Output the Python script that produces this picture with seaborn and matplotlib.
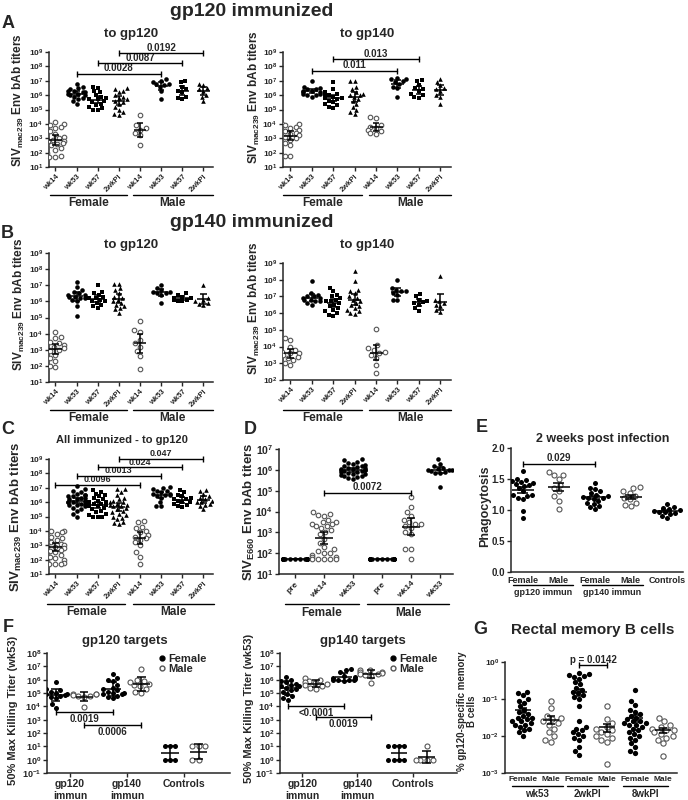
import numpy as np
import pandas as pd
import matplotlib
matplotlib.use("Agg")
import matplotlib.pyplot as plt
from matplotlib.lines import Line2D
from matplotlib.ticker import NullLocator, FormatStrFormatter
import seaborn as sns

# ---------------- data (titers as log10 values) ----------------
weeks = ["wk14", "wk53", "wk57", "2wkPI"]
d_weeks = ["pre", "wk14", "wk53"]
sexes = ["Female", "Male"]

# A: gp120 immunized, binding to gp120 / gp140  (wk14, wk53, wk57, 2wkPI)
a120_f = [[4.1, 4.0, 3.9, 3.8, 3.7, 3.5, 3.3, 3.1, 3.0, 2.9, 2.8, 2.8, 2.7, 2.6, 2.5, 2.3, 2.2, 2.0, 1.8, 1.7, 1.7],
          [6.8, 6.6, 6.5, 6.4, 6.3, 6.3, 6.2, 6.2, 6.1, 6.1, 6.0, 6.0, 5.9, 5.8, 5.7, 5.6, 5.4],
          [6.6, 6.5, 6.3, 6.2, 6.0, 5.9, 5.8, 5.7, 5.7, 5.6, 5.5, 5.4, 5.3, 5.2, 5.1, 5.0, 5.0],
          [6.5, 6.4, 6.3, 6.2, 6.0, 5.9, 5.8, 5.7, 5.6, 5.5, 5.4, 5.2, 5.0, 4.8, 4.7, 4.6]]
a120_m = [[4.6, 3.9, 3.7, 3.6, 3.4, 3.2, 2.5],
          [7.1, 7.0, 6.9, 6.8, 6.8, 6.7, 6.6, 6.3, 5.75],
          [7.0, 6.9, 6.6, 6.4, 6.3, 6.2, 5.9, 5.8, 5.7],
          [6.8, 6.7, 6.5, 6.4, 6.3, 6.0, 5.9, 5.6]]
a140_f = [[4.0, 4.0, 3.9, 3.8, 3.7, 3.6, 3.5, 3.4, 3.3, 3.2, 3.1, 3.0, 2.9, 2.7, 2.5, 1.8, 1.8],
          [7.0, 6.6, 6.5, 6.4, 6.4, 6.3, 6.3, 6.2, 6.2, 6.1, 6.1, 6.0, 6.0, 5.9],
          [6.9, 6.4, 6.2, 6.1, 6.0, 6.0, 5.9, 5.8, 5.8, 5.7, 5.6, 5.5, 5.4, 5.3, 5.2, 5.1],
          [7.0, 7.0, 6.6, 6.4, 6.2, 6.1, 6.0, 6.0, 5.9, 5.7, 5.6, 5.4, 5.2, 5.0, 4.8, 4.7]]
a140_m = [[4.45, 4.4, 3.9, 3.8, 3.7, 3.6, 3.5, 3.4, 3.3],
          [7.2, 7.1, 7.1, 7.0, 6.9, 6.8, 6.6, 6.5, 5.9],
          [7.05, 7.0, 6.7, 6.5, 6.4, 6.3, 6.1, 6.0, 5.9, 5.8],
          [7.1, 6.9, 6.7, 6.5, 6.4, 6.3, 6.0, 5.9, 5.4]]

# B: gp140 immunized
b120_f = [[4.1, 3.8, 3.7, 3.5, 3.4, 3.3, 3.2, 3.1, 3.1, 3.0, 2.9, 2.7, 2.5, 2.3, 2.0, 1.9],
          [7.2, 6.9, 6.7, 6.6, 6.5, 6.4, 6.4, 6.3, 6.3, 6.2, 6.2, 6.1, 6.0, 5.7, 5.1],
          [7.0, 6.6, 6.5, 6.4, 6.3, 6.2, 6.2, 6.1, 6.0, 6.0, 5.9, 5.8, 5.7, 5.6],
          [7.1, 7.1, 6.8, 6.7, 6.5, 6.3, 6.2, 6.1, 6.0, 5.9, 5.8, 5.7, 5.6, 5.5, 5.3]]
b120_m = [[4.8, 4.2, 4.1, 3.6, 3.4, 3.2, 2.9, 2.6, 1.8],
          [7.0, 6.8, 6.7, 6.6, 6.6, 6.5, 6.5, 6.4, 5.9],
          [6.5, 6.4, 6.3, 6.2, 6.2, 6.1, 6.1, 6.0, 6.0],
          [7.0, 6.2, 6.1, 6.0, 5.9, 5.85, 5.8]]
b140_f = [[4.5, 4.4, 4.0, 3.8, 3.7, 3.6, 3.6, 3.5, 3.4, 3.3, 3.2, 3.0, 2.9],
          [7.9, 7.2, 7.1, 7.0, 7.0, 6.9, 6.9, 6.8, 6.8, 6.7, 6.7, 6.6, 6.5],
          [7.5, 7.3, 7.1, 7.0, 6.9, 6.8, 6.7, 6.7, 6.6, 6.5, 6.4, 6.3, 6.2, 6.1, 6.0, 5.9, 5.85],
          [8.5, 7.9, 7.4, 7.3, 7.2, 7.0, 6.9, 6.8, 6.7, 6.6, 6.5, 6.4, 6.3, 6.2, 6.1, 6.0, 5.95]]
b140_m = [[5.05, 4.1, 3.9, 3.8, 3.7, 3.6, 3.5, 3.3, 2.9, 2.4],
          [8.0, 7.5, 7.4, 7.3, 7.3, 7.2, 7.1, 6.8, 6.8],
          [7.15, 7.0, 6.8, 6.7, 6.65, 6.6, 6.5, 6.3, 6.15],
          [8.2, 6.8, 6.7, 6.6, 6.5, 6.4, 6.2, 6.05]]

# C: all immunized, to gp120
c_f = [[4.1, 4.0, 4.0, 3.9, 3.8, 3.7, 3.6, 3.5, 3.4, 3.3, 3.2, 3.1, 3.0, 3.0, 2.9, 2.9, 2.8, 2.7, 2.6, 2.5,
        2.4, 2.3, 2.2, 2.1, 2.0, 1.9, 1.8, 1.7, 1.7, 1.7],
       [7.1, 6.9, 6.8, 6.7, 6.6, 6.5, 6.5, 6.4, 6.4, 6.3, 6.3, 6.2, 6.2, 6.1, 6.1, 6.0, 6.0, 6.0, 5.9, 5.9,
        5.8, 5.8, 5.7, 5.6, 5.5, 5.4, 5.2, 5.0],
       [6.85, 6.7, 6.6, 6.5, 6.4, 6.3, 6.2, 6.1, 6.0, 6.0, 5.9, 5.9, 5.8, 5.8, 5.7, 5.7, 5.6, 5.5, 5.4, 5.3,
        5.2, 5.1, 5.0, 5.0, 5.0],
       [6.9, 6.9, 6.7, 6.5, 6.3, 6.2, 6.1, 6.0, 6.0, 5.9, 5.8, 5.8, 5.7, 5.7, 5.6, 5.5, 5.4, 5.3, 5.2, 5.1,
        5.0, 4.9, 4.8, 4.6, 4.55, 4.5]]
c_m = [[4.7, 4.6, 4.3, 4.2, 4.0, 3.9, 3.7, 3.6, 3.5, 3.4, 3.2, 3.0, 2.5, 2.2, 1.7],
       [7.05, 7.0, 6.9, 6.8, 6.8, 6.7, 6.6, 6.6, 6.5, 6.5, 6.4, 6.3, 6.0, 5.7, 5.7],
       [6.85, 6.7, 6.5, 6.4, 6.3, 6.2, 6.2, 6.1, 6.0, 6.0, 5.9, 5.8, 5.7, 5.65],
       [6.85, 6.8, 6.6, 6.4, 6.3, 6.2, 6.1, 6.0, 6.0, 5.9, 5.8, 5.7, 5.5]]

# D: SIVE660 Env titers (pre, wk14, wk53)
d_f = [[1.7, 1.7, 1.7, 1.7, 1.7, 1.7, 1.7, 1.7, 1.7, 1.7, 1.7, 1.7, 1.7, 1.7, 1.7,
        1.7, 1.7, 1.7, 1.7, 1.7, 1.7, 1.7, 1.7, 1.7, 1.7, 1.7, 1.7, 1.7, 1.7, 1.7],
       [4.0, 3.9, 3.85, 3.8, 3.6, 3.5, 3.5, 3.4, 3.4, 3.3, 3.3, 3.2, 3.1, 3.0, 2.9, 2.7, 2.5, 2.3, 2.2, 2.1,
        2.0, 2.0, 1.9, 1.8, 1.8, 1.7, 1.7, 1.7, 1.7, 1.7],
       [6.5, 6.45, 6.4, 6.35, 6.3, 6.25, 6.2, 6.2, 6.15, 6.1, 6.1, 6.05, 6.05, 6.0, 6.0, 6.0, 5.95, 5.95,
        5.9, 5.9, 5.85, 5.8, 5.8, 5.75, 5.7, 5.7, 5.65, 5.6, 5.55]]
d_m = [[1.7, 1.7, 1.7, 1.7, 1.7, 1.7, 1.7, 1.7, 1.7, 1.7, 1.7, 1.7, 1.7, 1.7, 1.7],
       [4.7, 4.2, 4.0, 3.8, 3.6, 3.5, 3.4, 3.4, 3.3, 3.2, 3.0, 2.9, 2.2, 2.2, 1.7],
       [6.5, 6.3, 6.2, 6.1, 6.05, 6.0, 6.0, 6.0, 5.95, 5.9, 5.85, 5.85, 5.2]]

# E: phagocytosis 2 weeks post infection
e_labels = ["Female", "Male", "Female", "Male", "Controls"]
e_immun = ["gp120 immun", "gp140 immun"]
e_vals = [[1.63, 1.5, 1.48, 1.46, 1.45, 1.44, 1.42, 1.4, 1.38, 1.35, 1.3, 1.25, 1.24, 1.22, 1.2, 1.18, 0.99, 0.87],
          [1.62, 1.57, 1.57, 1.5, 1.4, 1.36, 1.3, 1.22, 1.15, 1.01],
          [1.43, 1.36, 1.34, 1.3, 1.28, 1.25, 1.22, 1.21, 1.2, 1.19, 1.18, 1.15, 1.12, 1.1, 1.07, 1.05, 1.02],
          [1.37, 1.35, 1.3, 1.27, 1.23, 1.2, 1.17, 1.12, 1.08, 1.06],
          [1.1, 1.05, 1.03, 1.02, 1.0, 0.99, 0.97, 0.96, 0.95, 0.93, 0.9, 0.87]]

# F: 50% max killing titers (log10), Female / Male per group
f_groups = ["gp120\nimmun", "gp140\nimmun", "Controls"]
f120 = [[5.8, 5.3, 5.2, 5.1, 5.0, 5.0, 4.95, 4.9, 4.9, 4.85, 4.8, 4.7, 4.6, 4.2, 3.9],
        [4.95, 4.9, 4.9, 4.85, 4.8, 4.75, 4.7, 3.95],
        [6.4, 6.1, 6.0, 5.9, 5.6, 5.4, 5.3, 5.2, 5.1, 5.0, 5.0, 4.95, 4.9, 4.8, 4.7, 4.6],
        [6.8, 6.0, 5.9, 5.8, 5.7, 5.6, 5.5, 5.3, 5.1, 5.0],
        [1.0, 1.0, 1.0, 0.0, 0.0, 0.0],
        [1.0, 1.0, 1.0, 0.0, 0.0]]
f140 = [[6.2, 6.0, 5.9, 5.8, 5.7, 5.6, 5.5, 5.5, 5.4, 5.3, 5.2, 5.1, 4.9, 4.75, 4.6, 4.5],
        [6.1, 6.0, 5.9, 5.8, 5.75, 5.7, 5.6, 5.5, 5.4, 5.3],
        [6.8, 6.7, 6.6, 6.3, 6.2, 6.1, 6.05, 6.0, 6.0, 6.0, 5.95, 5.9],
        [6.75, 6.7, 6.6, 6.55, 6.5, 6.45, 6.4, 6.35, 6.3, 5.75],
        [1.0, 1.0, 1.0, 1.0, 0.0, 0.0, 0.0, 0.0],
        [1.0, 0.0, 0.0, 0.0, 0.0]]

# G: rectal gp120-specific memory B cells (log10 %)
g_times = ["wk53", "2wkPI", "8wkPI"]
g_vals = [[-0.8, -0.85, -0.9, -1.0, -1.05, -1.1, -1.2, -1.3, -1.35, -1.4, -1.45, -1.5, -1.5, -1.55, -1.6,
           -1.6, -1.65, -1.7, -1.7, -1.75, -1.8, -1.85, -1.9, -2.0],
          [-1.05, -1.25, -1.45, -1.5, -1.55, -1.6, -1.65, -1.7, -1.8, -1.9, -2.0, -2.1, -2.15],
          [-0.3, -0.32, -0.35, -0.37, -0.4, -0.45, -0.55, -0.6, -0.7, -0.75, -0.8, -0.85, -0.9, -0.95,
           -1.0, -1.2, -1.6, -1.75, -1.8, -1.85, -1.9, -1.95, -2.0, -2.05, -2.1, -2.3, -2.4, -2.5],
          [-1.2, -1.55, -1.65, -1.75, -1.8, -1.85, -1.9, -1.95, -2.0, -2.05, -2.1, -2.15, -2.75],
          [-0.75, -1.05, -1.15, -1.3, -1.35, -1.4, -1.45, -1.5, -1.55, -1.6, -1.6, -1.65, -1.65, -1.7,
           -1.7, -1.75, -1.8, -1.85, -1.9, -1.95, -2.0, -2.05, -2.1, -2.2, -2.3, -2.4, -2.45],
          [-1.5, -1.6, -1.7, -1.75, -1.8, -1.85, -1.85, -1.9, -1.95, -2.0, -2.05, -2.1, -2.2, -2.55]]

# ---------------- style ----------------
sns.set_style("ticks")
plt.rcParams["font.family"] = ["Liberation Sans", "DejaVu Sans"]
plt.rcParams["font.weight"] = "bold"
plt.rcParams["mathtext.fontset"] = "custom"
plt.rcParams["mathtext.rm"] = "Liberation Sans:bold"
plt.rcParams["mathtext.bf"] = "Liberation Sans:bold"
plt.rcParams["mathtext.default"] = "rm"
plt.rcParams["axes.linewidth"] = 1.1
plt.rcParams["xtick.major.size"] = 3
plt.rcParams["ytick.major.size"] = 3
plt.rcParams["xtick.major.pad"] = 1.5
plt.rcParams["ytick.major.pad"] = 1.2

STY = {"open": dict(marker="o", color="white", edgecolor="#555555", linewidth=0.8),
       "dot": dict(marker="o", color="black", linewidth=0),
       "sq": dict(marker="s", color="black", linewidth=0),
       "tri": dict(marker="^", color="black", linewidth=0)}

W, H = 688, 800
fig = plt.figure(figsize=(6.88, 8.0), dpi=100)


def box(l, t, r, b):
    return [l / W, 1 - b / H, (r - l) / W, (b - t) / H]


def ftext(x, y, s, **kw):
    kw.setdefault("ha", "center")
    kw.setdefault("va", "center")
    fig.text(x / W, 1 - y / H, s, **kw)


def swarm(ax, groups, styles, log=True, size=3.0):
    keys = [f"g{i}" for i in range(len(groups))]
    df = pd.DataFrame({"grp": [k for k, g in zip(keys, groups) for _ in g],
                       "val": [10.0 ** v if log else v for g in groups for v in g],
                       "sty": [s for s, g in zip(styles, groups) for _ in g]})
    for s, sub in df.groupby("sty"):
        sns.swarmplot(data=sub, x="grp", y="val", order=keys, ax=ax, size=size,
                      log_scale=True if log else None, warn_thresh=1, **STY[s])
    ax.set_xlabel("")
    ax.set_ylabel("")


def summary(ax, groups, mode, log=True, hw=0.3, cw=0.15):
    for i, g in enumerate(groups):
        v = np.asarray(g, float)
        if log and mode != "lin":
            m, s = v.mean(), v.std(ddof=1)
            e = s if mode == "sd" else 2.0 * s / np.sqrt(len(v))
            c, lo, hi = 10 ** m, 10 ** (m - e), 10 ** (m + e)
        else:
            lin = 10 ** v if log else v
            m = lin.mean()
            e = lin.std(ddof=1) / np.sqrt(len(lin))
            c, lo, hi = m, m - e, m + e
        kw = dict(color="black", lw=1.1, zorder=4, solid_capstyle="butt")
        ax.plot([i - hw, i + hw], [c, c], **kw)
        ax.plot([i, i], [lo, hi], **kw)
        ax.plot([i - cw, i + cw], [lo, lo], **kw)
        ax.plot([i - cw, i + cw], [hi, hi], **kw)


def log_axis(ax, lo, hi, fs=6):
    ax.set_yscale("log")
    ax.set_ylim(10.0 ** lo, 10.0 ** hi)
    ks = list(range(lo, hi + 1))
    ax.set_yticks([10.0 ** k for k in ks])
    ax.set_yticklabels([f"$10^{{{k}}}$" for k in ks], fontsize=fs)
    ax.yaxis.set_minor_locator(NullLocator())


def bracket(ax, i, j, y, text, below=False, fs=7):
    ax.plot([i, j], [y, y], color="black", lw=1, marker="|", ms=5, mew=1, clip_on=False, zorder=6)
    ax.annotate(text, xy=((i + j) / 2, y), xytext=(0, -1.5 if below else 0.3),
                textcoords="offset points", ha="center", va="top" if below else "bottom",
                fontsize=fs, annotation_clip=False)


def under_lines(ax, spans, labels, y_line, y_text, fs=8.5):
    tr = ax.get_xaxis_transform()
    for (x0, x1), lab in zip(spans, labels):
        ax.plot([x0, x1], [y_line, y_line], color="black", lw=1, transform=tr, clip_on=False)
        ax.text((x0 + x1) / 2, y_text, lab, transform=tr, ha="center", va="center", fontsize=fs)


def clean(ax):
    sns.despine(ax=ax)
    ax.tick_params(axis="both", width=1)


def titer_panel(rect, female, male, lo, hi, xlim, spans, y_line, y_text, brs, wk_labels, styles,
                fs_x=5.5, fs_br=7):
    ax = fig.add_axes(box(*rect))
    groups = female + male
    swarm(ax, groups, styles, log=True, size=3.3)
    summary(ax, groups, "ci")
    log_axis(ax, lo, hi)
    ax.set_xlim(*xlim)
    ax.set_xticks(range(len(groups)))
    ax.set_xticklabels(wk_labels * 2, rotation=45, ha="right", rotation_mode="anchor", fontsize=fs_x)
    for i, j, p, y in brs:
        bracket(ax, i, j, 10.0 ** y, p, fs=fs_br)
    under_lines(ax, spans, sexes, y_line, y_text)
    clean(ax)
    return ax


wk_styles = ["open", "dot", "sq", "tri"] * 2
siv_mac = r"SIV$_{\mathrm{mac239}}$ Env bAb titers"

# ---------------- titles ----------------
ftext(252, 11, "gp120 immunized", fontsize=14)
ftext(252, 222, "gp140 immunized", fontsize=14)
for lab, x, y in [("A", 8, 23), ("B", 7, 233), ("C", 8, 430), ("D", 250, 430), ("E", 482, 428), ("F", 8, 628)]:
    ftext(x, y, lab, fontsize=13)
ftext(131, 34, "to gp120", fontsize=9.5)
ftext(367, 34, "to gp140", fontsize=9.5)
ftext(131, 245, "to gp120", fontsize=9.5)
ftext(367, 245, "to gp140", fontsize=9.5)
ftext(122, 440, "All immunized - to gp120", fontsize=8)

# ---------------- A ----------------
titer_panel((49, 52, 213, 167), a120_f, a120_m, 1, 9, (-0.3, 7.45), [(-0.25, 3.4), (3.65, 7.45)],
            -0.243, -0.313, [(1, 5, "0.0028", 7.48), (2, 6, "0.0087", 8.23), (3, 7, "0.0192", 8.93)],
            weeks, wk_styles)
titer_panel((283, 52, 451, 167), a140_f, a140_m, 1, 9, (-0.35, 7.5), [(-0.33, 3.36), (3.69, 7.5)],
            -0.243, -0.313, [(1, 5, "0.011", 7.7), (2, 6, "0.013", 8.5)], weeks, wk_styles)
ftext(18, 100, siv_mac, rotation=90, fontsize=8.5)
ftext(254, 97, siv_mac, rotation=90, fontsize=8.5)

# ---------------- B ----------------
titer_panel((49, 253, 213, 382), b120_f, b120_m, 1, 9, (-0.3, 7.45), [(-0.25, 3.4), (3.65, 7.45)],
            -0.217, -0.279, [], weeks, wk_styles)
titer_panel((283, 263, 451, 380), b140_f, b140_m, 2, 9, (-0.35, 7.5), [(-0.33, 3.36), (3.69, 7.5)],
            -0.256, -0.325, [], weeks, wk_styles)
ftext(19, 304, siv_mac, rotation=90, fontsize=8.5)
ftext(254, 308, siv_mac, rotation=90, fontsize=8.5)

# ---------------- C ----------------
titer_panel((49, 459, 213, 574), c_f, c_m, 1, 9, (-0.3, 7.45), [(-0.38, 3.3), (3.65, 7.5)],
            -0.26, -0.33,
            [(0, 4, "0.0096", 7.2), (1, 5, "0.0013", 7.85), (2, 6, "0.024", 8.42), (3, 7, "0.047", 9.02)],
            weeks, wk_styles, fs_br=6.5)
ftext(16, 517, siv_mac, rotation=90, fontsize=9.5)

# ---------------- D ----------------
d_ax = titer_panel((279, 449, 453, 574), d_f, d_m, 1, 7, (-0.55, 5.45), [(-0.35, 2.2), (2.5, 5.3)],
                   -0.24, -0.312, [(1, 4, "0.0072", 4.9)], d_weeks, ["dot", "open", "dot"] * 2, fs_x=6)
d_ax.tick_params(axis="y", labelsize=7.5)
ftext(249, 512, r"SIV$_{\mathrm{E660}}$ Env bAb titers", rotation=90, fontsize=9.5)

# ---------------- E ----------------
e_ax = fig.add_axes(box(511, 448, 683, 572))
swarm(e_ax, e_vals, ["dot", "open", "dot", "open", "dot"], log=False, size=3.6)
summary(e_ax, e_vals, "lin", log=False)
e_ax.set_ylim(0, 2.0)
e_ax.set_yticks(np.arange(0, 2.01, 0.5))
e_ax.yaxis.set_major_formatter(FormatStrFormatter("%.1f"))
e_ax.tick_params(axis="y", labelsize=7)
e_ax.set_xlim(-0.33, 4.45)
e_ax.set_xticks(range(5))
e_ax.set_xticklabels(e_labels, fontsize=6.5)
e_ax.tick_params(axis="x", length=0, pad=3)
bracket(e_ax, 0, 2, 1.75, "0.029")
under_lines(e_ax, [(-0.28, 1.39), (1.64, 3.33)], e_immun, -0.105, -0.165, fs=6.5)
clean(e_ax)
ftext(603, 439, "2 weeks post infection", fontsize=9)
ftext(485, 506, "Phagocytosis", rotation=90, fontsize=9)

# ---------------- F ----------------
legend_handles = [Line2D([], [], ls="", marker="o", color="black", ms=3.5, label="Female"),
                  Line2D([], [], ls="", marker="o", mfc="white", mec="#555555", ms=3.5, label="Male")]


def killing_panel(rect, vals, brs, title, tx, leg_x):
    ax = fig.add_axes(box(*rect))
    swarm(ax, vals, ["dot", "open"] * 3, log=True, size=3.6)
    summary(ax, vals, "sd")
    log_axis(ax, -1, 8, fs=6.5)
    ax.set_xlim(-0.3, 6.1)
    ax.set_xticks([0.5, 2.5, 4.5])
    ax.set_xticklabels(f_groups, fontsize=7.5)
    for i, j, p, y in brs:
        bracket(ax, i, j, 10.0 ** y, p, below=True)
    ax.legend(handles=legend_handles, loc="upper right", bbox_to_anchor=(leg_x, 1.04), frameon=False,
              fontsize=8, handletextpad=0.1, labelspacing=0.05, borderpad=0, handlelength=0.8)
    clean(ax)
    ftext(tx, 641, title, fontsize=9.5)
    return ax


killing_panel((47, 653, 230, 773), f120, [(0, 2, "0.0019", 3.6), (1, 3, "0.0006", 2.6)],
              "gp120 targets", 125, 0.9)
killing_panel((280, 653, 457, 773), f140, [(0, 2, "<0.0001", 4.0), (1, 3, "0.0019", 3.2)],
              "gp140 targets", 363, 0.92)
ftext(13, 710, "50% Max Killing Titer (wk53)", rotation=90, fontsize=8)
ftext(249, 708, "50% Max Killing Titer (wk53)", rotation=90, fontsize=8)

# ---------------- G ----------------
g_ax = fig.add_axes(box(505, 662, 677, 773))
swarm(g_ax, g_vals, ["dot", "open"] * 3, log=True, size=3.8)
summary(g_ax, g_vals, "lin")
log_axis(g_ax, -3, 0, fs=6)
g_ax.set_xlim(-0.64, 5.5)
g_ax.set_xticks(range(6))
g_ax.set_xticklabels(sexes * 3, fontsize=6)
g_ax.tick_params(axis="x", length=0, pad=2)
bracket(g_ax, 2, 3, 10.0 ** -0.09, "p = 0.0142")
under_lines(g_ax, [(-0.4, 1.43), (1.57, 3.04), (3.57, 5.18)], g_times, -0.117, -0.19, fs=7)
clean(g_ax)
ftext(480, 630, "G", fontsize=13)
ftext(593, 630, "Rectal memory B cells", fontsize=11)
ftext(467, 711, "% gp120-specific memory\nB cells", rotation=90, fontsize=7, linespacing=1.0)

fig.savefig("out.png", dpi=100)
